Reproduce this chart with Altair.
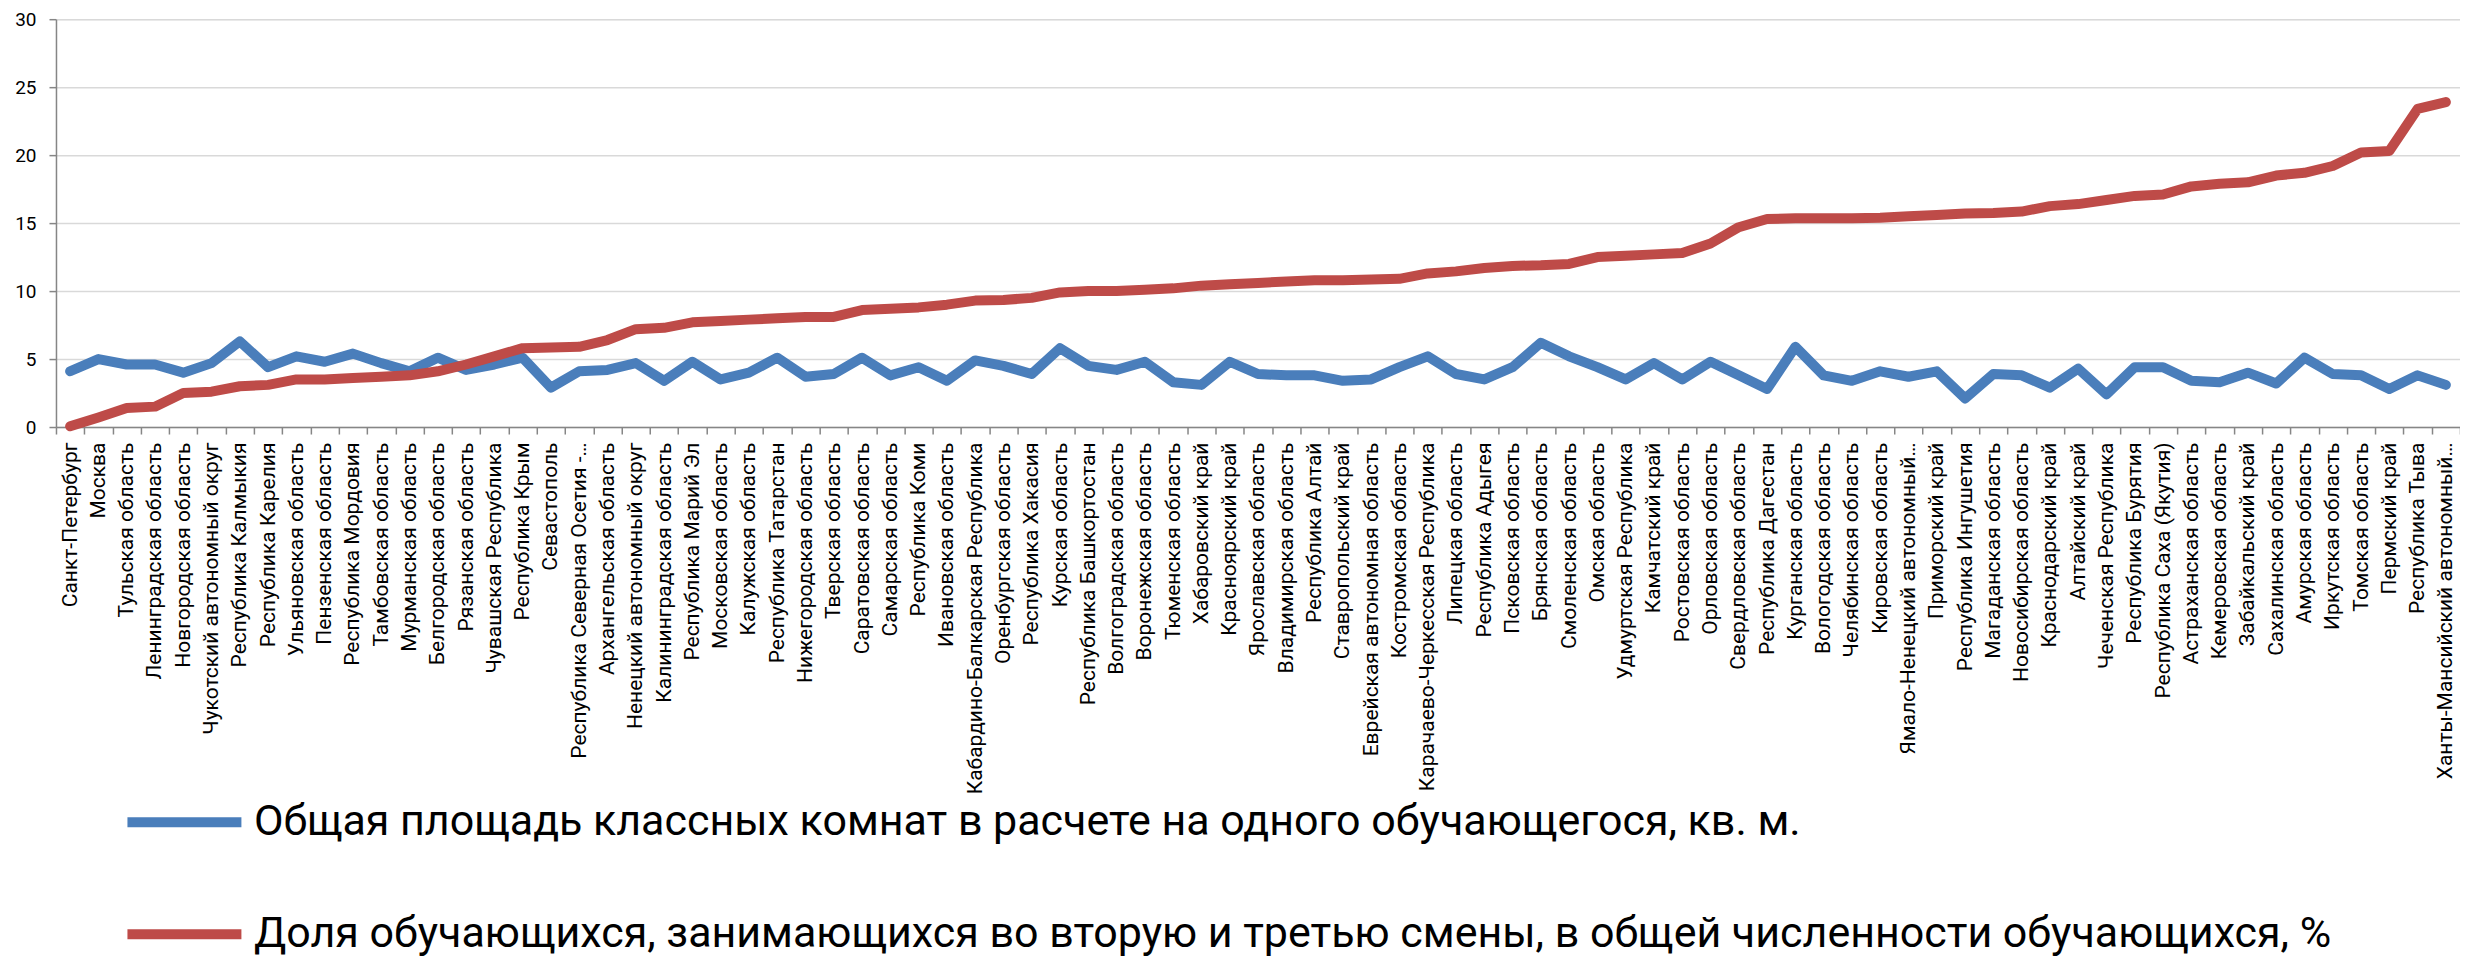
import altair as alt
import pandas as pd

regions = [
    "Санкт-Петербург", "Москва", "Тульская область", "Ленинградская область",
    "Новгородская область", "Чукотский автономный округ", "Республика Калмыкия",
    "Республика Карелия", "Ульяновская область", "Пензенская область",
    "Республика Мордовия", "Тамбовская область", "Мурманская область",
    "Белгородская область", "Рязанская область", "Чувашская Республика",
    "Республика Крым", "Севастополь", "Республика Северная Осетия -…",
    "Архангельская область", "Ненецкий автономный округ", "Калининградская область",
    "Республика Марий Эл", "Московская область", "Калужская область",
    "Республика Татарстан", "Нижегородская область", "Тверская область",
    "Саратовская область", "Самарская область", "Республика Коми",
    "Ивановская область", "Кабардино-Балкарская Республика", "Оренбургская область",
    "Республика Хакасия", "Курская область", "Республика Башкортостан",
    "Волгоградская область", "Воронежская область", "Тюменская область",
    "Хабаровский край", "Красноярский край", "Ярославская область",
    "Владимирская область", "Республика Алтай", "Ставропольский край",
    "Еврейская автономная область", "Костромская область",
    "Карачаево-Черкесская Республика", "Липецкая область", "Республика Адыгея",
    "Псковская область", "Брянская область", "Смоленская область", "Омская область",
    "Удмуртская Республика", "Камчатский край", "Ростовская область",
    "Орловская область", "Свердловская область", "Республика Дагестан",
    "Курганская область", "Вологодская область", "Челябинская область",
    "Кировская область", "Ямало-Ненецкий автономный…", "Приморский край",
    "Республика Ингушетия", "Магаданская область", "Новосибирская область",
    "Краснодарский край", "Алтайский край", "Чеченская Республика",
    "Республика Бурятия", "Республика Саха (Якутия)", "Астраханская область",
    "Кемеровская область", "Забайкальский край", "Сахалинская область",
    "Амурская область", "Иркутская область", "Томская область", "Пермский край",
    "Республика Тыва", "Ханты-Мансийский автономный…",
]

area_per_student = [
    4.1, 5.0, 4.6, 4.6, 4.0, 4.7, 6.3, 4.4, 5.2, 4.8,
    5.4, 4.7, 4.1, 5.1, 4.2, 4.6, 5.1, 2.9, 4.1, 4.2,
    4.7, 3.4, 4.8, 3.5, 4.0, 5.1, 3.7, 3.9, 5.1, 3.8,
    4.4, 3.4, 4.9, 4.5, 3.9, 5.8, 4.5, 4.2, 4.8, 3.3,
    3.1, 4.8, 3.9, 3.8, 3.8, 3.4, 3.5, 4.4, 5.2, 3.9,
    3.5, 4.4, 6.2, 5.2, 4.4, 3.5, 4.7, 3.5, 4.8, 3.8,
    2.8, 5.9, 3.8, 3.4, 4.1, 3.7, 4.1, 2.1, 3.9, 3.8,
    2.9, 4.3, 2.4, 4.4, 4.4, 3.4, 3.3, 4.0, 3.2, 5.1,
    3.9, 3.8, 2.8, 3.8, 3.1,
]

second_shift_share = [
    0.05, 0.7, 1.4, 1.5, 2.5, 2.6, 3.0, 3.1, 3.5, 3.5,
    3.6, 3.7, 3.8, 4.1, 4.6, 5.2, 5.8, 5.85, 5.9, 6.4,
    7.2, 7.3, 7.7, 7.8, 7.9, 8.0, 8.1, 8.1, 8.6, 8.7,
    8.8, 9.0, 9.3, 9.35, 9.5, 9.9, 10.0, 10.0, 10.1, 10.2,
    10.4, 10.5, 10.6, 10.7, 10.8, 10.8, 10.85, 10.9, 11.3, 11.45,
    11.7, 11.85, 11.9, 12.0, 12.5, 12.6, 12.7, 12.8, 13.5, 14.7,
    15.3, 15.35, 15.35, 15.35, 15.4, 15.5, 15.6, 15.7, 15.75, 15.85,
    16.25, 16.4, 16.7, 17.0, 17.1, 17.7, 17.9, 18.0, 18.5, 18.7,
    19.2, 20.2, 20.3, 23.4, 23.9,
]

series_names = [
    "Общая площадь классных комнат в расчете на одного обучающегося, кв. м.",
    "Доля обучающихся, занимающихся во вторую и третью смены, в общей численности обучающихся, %",
]
series_colors = ["#4A7EBB", "#BE4B48"]
y_ticks = [0, 5, 10, 15, 20, 25, 30]

rows = []
for name, vals in zip(series_names, [area_per_student, second_shift_share]):
    for r, v in zip(regions, vals):
        rows.append({"region": r, "value": v, "series": name})
df = pd.DataFrame(rows)

FONT = "Roboto"

chart = (
    alt.Chart(df)
    .mark_line(strokeWidth=10, strokeCap="round", strokeJoin="round")
    .encode(
        x=alt.X(
            "region:N",
            sort=regions,
            scale=alt.Scale(type="band", paddingInner=0, paddingOuter=0),
            bandPosition=0.5,
            axis=alt.Axis(
                title=None,
                labelAngle=-90,
                labelFont=FONT,
                labelFontSize=21,
                labelColor="#000000",
                labelPadding=8,
                labelLimit=400,
                labelOverlap=False,
                tickBand="extent",
                ticks=True,
                tickSize=7,
                tickColor="#868686",
                tickWidth=1.5,
                domainColor="#868686",
                domainWidth=1.5,
                grid=False,
            ),
        ),
        y=alt.Y(
            "value:Q",
            scale=alt.Scale(domain=[0, 30], nice=False),
            axis=alt.Axis(
                title=None,
                values=y_ticks,
                labelFont=FONT,
                labelFontSize=19,
                labelColor="#000000",
                labelPadding=13,
                tickSize=7,
                tickColor="#868686",
                tickWidth=1.5,
                domainColor="#868686",
                domainWidth=1.5,
                grid=True,
                gridColor="#D9D9D9",
                gridWidth=1.5,
            ),
        ),
        color=alt.Color(
            "series:N",
            sort=series_names,
            scale=alt.Scale(domain=series_names, range=series_colors),
            legend=alt.Legend(
                title=None,
                orient="none",
                legendX=66,
                legendY=741,
                direction="vertical",
                symbolType="stroke",
                symbolSize=13000,
                symbolStrokeWidth=10,
                labelFont=FONT,
                labelFontSize=43,
                labelColor="#000000",
                labelLimit=2400,
                labelOffset=7,
                rowPadding=27,
                padding=0,
            ),
        ),
        order=alt.Order("series:N"),
    )
    .properties(
        width=2405,
        height=408,
        padding={"left": 48, "top": 11, "right": 0, "bottom": 536},
        autosize=alt.AutoSizeParams(type="none"),
    )
    .configure_view(stroke=None)
    .configure(background="#FFFFFF")
)

chart.save("out.html", embed_options={"renderer": "svg", "actions": False})
